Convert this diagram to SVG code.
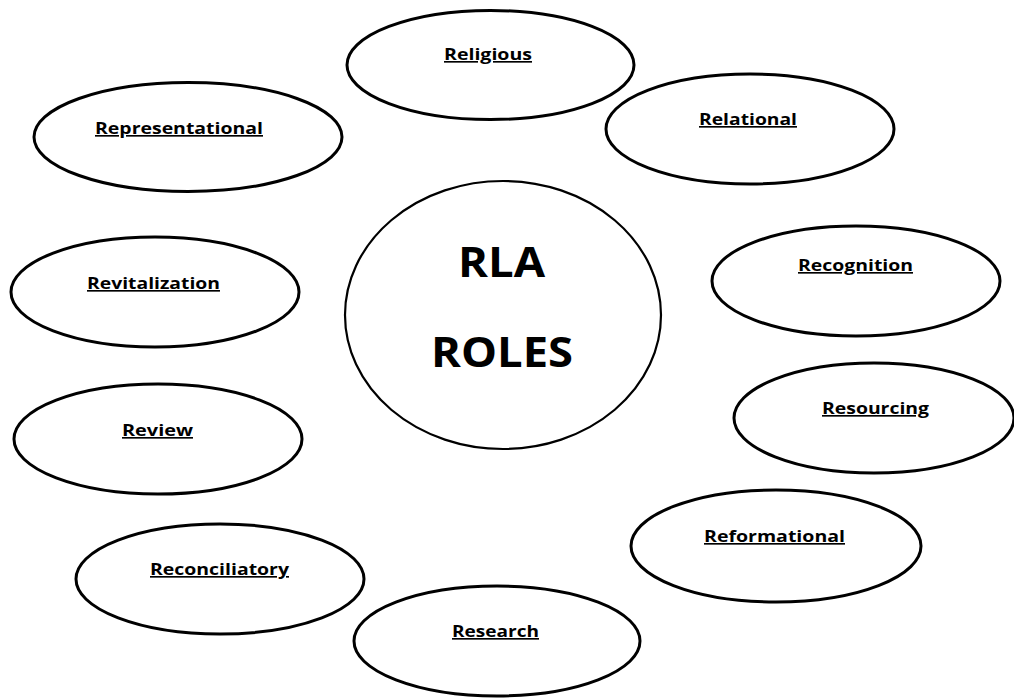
<svg xmlns="http://www.w3.org/2000/svg" width="1014" height="698" viewBox="0 0 1014 698">
  <style>
    .role { fill: #ffffff; stroke: #000000; stroke-width: 3; }
    .hub { fill: #ffffff; stroke: #000000; stroke-width: 2.2; }
    .lbl { font-family: "Open Sans", "Liberation Sans", sans-serif; font-weight: 700; font-size: 16.5px; fill: #000000; text-decoration: underline; }
    .title { font-family: "Open Sans", "Liberation Sans", sans-serif; font-weight: 700; font-size: 42px; fill: #000000; }
  </style>
  <rect width="1014" height="698" fill="#ffffff"/>

  <!-- central hub -->
  <g id="rla-roles">
    <ellipse class="hub" cx="503" cy="315" rx="158" ry="134"/>
    <text class="title" x="458" y="277" textLength="87" lengthAdjust="spacingAndGlyphs">RLA</text>
    <text class="title" x="431" y="367" textLength="142" lengthAdjust="spacingAndGlyphs">ROLES</text>
  </g>

  <!-- surrounding roles -->
  <g id="religious">
    <ellipse class="role" cx="490.5" cy="65" rx="143.5" ry="54.5"/>
    <text class="lbl" x="444" y="60" textLength="88" lengthAdjust="spacingAndGlyphs">Religious</text>
  </g>
  <g id="representational">
    <ellipse class="role" cx="188" cy="137" rx="154" ry="54.5"/>
    <text class="lbl" x="95" y="134" textLength="168" lengthAdjust="spacingAndGlyphs">Representational</text>
  </g>
  <g id="relational">
    <ellipse class="role" cx="750" cy="129" rx="144" ry="55"/>
    <text class="lbl" x="699" y="125" textLength="98" lengthAdjust="spacingAndGlyphs">Relational</text>
  </g>
  <g id="revitalization">
    <ellipse class="role" cx="155" cy="292" rx="144" ry="55"/>
    <text class="lbl" x="87" y="289" textLength="133" lengthAdjust="spacingAndGlyphs">Revitalization</text>
  </g>
  <g id="recognition">
    <ellipse class="role" cx="856" cy="281" rx="144" ry="55"/>
    <text class="lbl" x="798" y="271" textLength="115" lengthAdjust="spacingAndGlyphs">Recognition</text>
  </g>
  <g id="resourcing">
    <ellipse class="role" cx="874" cy="418" rx="140" ry="55"/>
    <text class="lbl" x="822" y="414" textLength="107" lengthAdjust="spacingAndGlyphs">Resourcing</text>
  </g>
  <g id="review">
    <ellipse class="role" cx="158" cy="439" rx="144" ry="55"/>
    <text class="lbl" x="122" y="436" textLength="71" lengthAdjust="spacingAndGlyphs">Review</text>
  </g>
  <g id="reformational">
    <ellipse class="role" cx="776" cy="546" rx="145" ry="56"/>
    <text class="lbl" x="704" y="542" textLength="141" lengthAdjust="spacingAndGlyphs">Reformational</text>
  </g>
  <g id="reconciliatory">
    <ellipse class="role" cx="220" cy="579" rx="144" ry="55"/>
    <text class="lbl" x="150" y="575" textLength="139" lengthAdjust="spacingAndGlyphs">Reconciliatory</text>
  </g>
  <g id="research">
    <ellipse class="role" cx="497" cy="641" rx="143" ry="55"/>
    <text class="lbl" x="452" y="637" textLength="87" lengthAdjust="spacingAndGlyphs">Research</text>
  </g>

  <!-- no connectors between roles -->
  <g id="connectors"/>
</svg>
